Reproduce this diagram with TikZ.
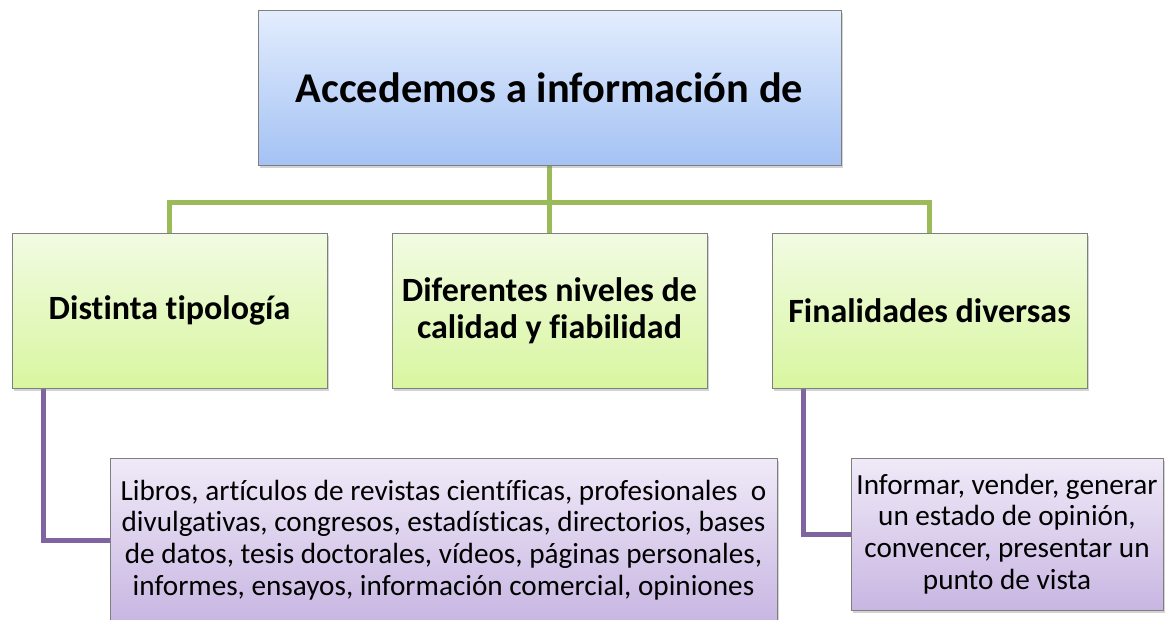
\documentclass[tikz,border=0pt]{standalone}
\usepackage{fontspec}
\setmainfont{Carlito}[Ligatures=NoCommon]
\usetikzlibrary{shadows,backgrounds}
\definecolor{blueT}{HTML}{E3EDFD}
\definecolor{blueB}{HTML}{A4C2F4}
\definecolor{greenT}{HTML}{F2FBE3}
\definecolor{greenB}{HTML}{D8F6A0}
\definecolor{purpT}{HTML}{F0EAF8}
\definecolor{purpB}{HTML}{C8B6E2}
\definecolor{greenLine}{HTML}{9BBB59}
\definecolor{purpLine}{HTML}{8064A2}
\definecolor{boxBorder}{HTML}{7F7F7F}
\begin{document}
\begin{tikzpicture}[x=1pt,y=-1pt,
  box/.style={draw=boxBorder, line width=0.8pt, align=center, inner sep=0pt,
    drop shadow={shadow xshift=2pt, shadow yshift=-3pt, opacity=0.35}},
  topbox/.style={box, top color=blueT, bottom color=blueB,
    minimum width=583pt, minimum height=155pt,
    font=\bfseries\fontsize{42.4}{50}\selectfont},
  midbox/.style={box, top color=greenT, bottom color=greenB,
    minimum width=315pt, minimum height=155pt,
    font=\bfseries\fontsize{34}{37}\selectfont},
  lowbox/.style={box, top color=purpT, bottom color=purpB,
    font=\fontsize{29.2}{31.7}\selectfont},
  gline/.style={draw=greenLine, line width=5pt},
  pline/.style={draw=purpLine, line width=5pt}]
\useasboundingbox (0,0) rectangle (1175,619);
\node[topbox] (top) at (549.5,87.5) {Accedemos a información de};
\node[midbox] (l) at (169.5,310.5) {Distinta tipología};
\node[midbox] (m) at (549.5,310.5) {Diferentes niveles de\\calidad y fiabilidad};
\node[midbox] (r) at (929.5,310.5) {Finalidades diversas};
\node[lowbox, minimum width=667pt, minimum height=164pt] (pl) at (443.5,540)
  {Libros, artículos de revistas científicas, profesionales\ \ o\\
   divulgativas, congresos, estadísticas, directorios, bases\\
   de datos, tesis doctorales, vídeos, páginas personales,\\
   informes, ensayos, información comercial, opiniones};
\node[lowbox, minimum width=312pt, minimum height=152pt] (pr) at (1007,534)
  {Informar, vender, generar\\un estado de opinión,\\convencer, presentar un\\punto de vista};
\coordinate (j) at (549.5,202);
\begin{scope}[on background layer]
\draw[gline] (top.south) -- (j);
\draw[gline] (j) -- (m.north);
\draw[gline] (l.north) |- (j) -| (r.north);
\draw[pline] ([xshift=32pt]l.south west) |- (pl.west);
\draw[pline] ([xshift=32pt]r.south west) |- (pr.west);
\end{scope}
\end{tikzpicture}
\end{document}
